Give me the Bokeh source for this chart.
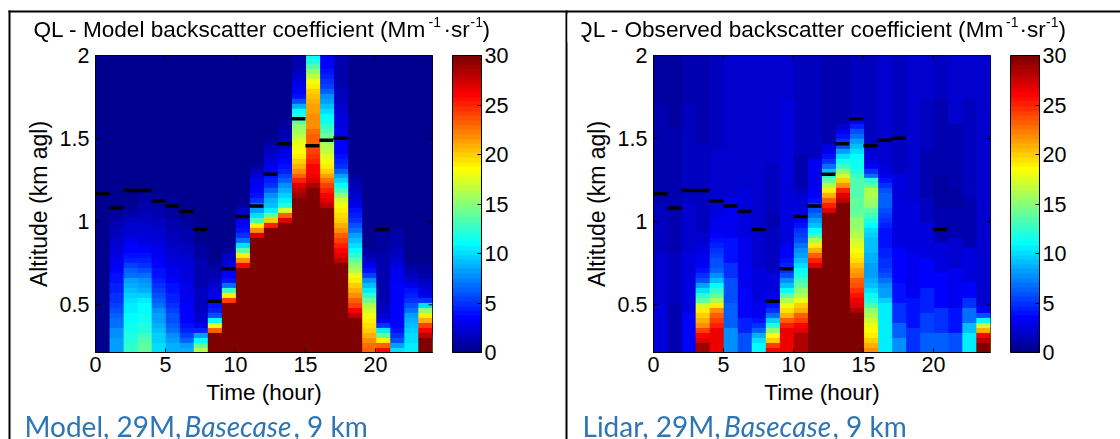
from bokeh.plotting import figure
from bokeh.models import (ColumnDataSource, LinearColorMapper, ColorBar, FixedTicker,
                          Label, Range1d, NumeralTickFormatter)
from bokeh.layouts import row
from bokeh.embed import file_html
from bokeh.resources import INLINE
import numpy as np

# ---------- data ----------
mlh_hours = [0, 1, 2, 3, 4, 5, 6, 7, 8, 9, 10, 11, 12, 13, 14, 15, 16, 17, 20]
mlh_km = [1.168, 1.082, 1.188, 1.188, 1.124, 1.094, 1.062, 0.953, 0.522, 0.717, 1.032,
          1.094, 1.286, 1.469, 1.619, 1.457, 1.49, 1.502, 0.953]
x_ticks = [0, 5, 10, 15, 20]
y_ticks = [0.5, 1, 1.5, 2]
c_ticks = [0, 5, 10, 15, 20, 25, 30]

model_columns = [
    [0.3],
    [8,8,8,7.5,7.5,7,7,6.5,6,5.5,5,5,4.5,4.5,4,4,3.5,3,3,2.5,2.5,2,2,1.5,1.5,1,1,.7,.5,.2],
    [12.5,12.5,12,12,11.5,11.5,11,11,10.5,10.5,10,9.5,9,8.5,8,7,6.5,5.5,4.5,4,3.5,3.5,3,2.5,2,2,1.5,1,.5,.2],
    [14,14,13.5,13,12,12,11.5,11.5,11,11,10.5,9.5,8.5,8,7.5,7,6,5,4.5,4,3.5,3,2.5,2.5,2,2,1.5,1.5,1,1,.7,.5,.3],
    [10,10,9.5,9.5,9,8.5,8,8,7.5,7,6.5,6,5.5,5,4.5,4,4,3.5,3.5,3,3,2.5,2.5,2,2,1.5,1.5,1,1,.7,.7,.5,.3],
    [8.5,8.5,8,7.5,7,6.5,6,6,5.5,5,4.5,4.5,4,4,3.5,3,3,2.5,2.5,2,2,1.5,1.5,1.5,1,1,1,.7,.7,.5,.5,.3],
    [8.5,8,6.5,5.5,4.5,4,3.7,3.5,3.5,3.5,3.2,3.2,3,3,2.8,2.8,2.5,2.5,2.2,2,1.8,1.6,1.4,1.2,1,.8,.6,.3],
    [16,14,11,8,4.5,3,2,2,1.7,1.7,1.5,1.5,1.5,1.3,1.3,1.2,1,1,1,.8,.6,.5,.3],
    [30,30,30,30,23,18,11,6,4.5,4,3.5,3,2.5,2,1.5,1,1,.5,.3],
    [30]*10+[24,19,13,7,4,3.5,3,2.5,2,1.5,.8,.4,.3],
    [30]*17+[26,22,19,14,10,7,5,4,3.5,3,2,1.5,.8,.4,.3],
    [30]*23+[27,22,19,13,10,8,7,5,4,3.5,3,3,2,1.5,.8,.3],
    [30]*25+[25,20,14,10.5,9,8.5,7.5,6.5,5,4.5,4,3.5,3,2.5,2,1.5,1,.5,.3],
    [30]*26+[27,23,17,12,10.5,9.5,8.5,7.5,6.5,5.5,4.5,4,3.5,3,2.5,2,1.5,1.2,1,.7,.5,.3],
    [30]*31+[29,28,27,25,23,22,21,20,19,18.5,18,17.5,16.5,15.5,15,13.5,12,11,8.5,6,4,3.5,3,2.5,2,1.5,1],
    [30]*33+[28.5,27,26.5,26,26,25,24.5,24,23.5,23,23,22.5,22,22,22,21.5,21.5,21,20.5,20,19,18,16.5,15,13.5,12,11],
    [30]*29+[28,27,26,25,24,22.5,21.5,20,19,18,17.5,16.5,16,15,14.5,13.5,12.5,11.5,11,10,9,8,7.5,6.5,5.5,5,4.5,4,3.5,3.5,3],
    [30]*18+[28,27,26,25,24,23,22,21,20,19.5,19,18,17,15,13,11,9.5,8,6.5,5,4.5,4,3.7,3.5,3.2,3,3,2.8,2.6,2.4,2.2,2,1.8,1.6,1.5,1.4,1.3,1.2,1.1,1,1,1],
    [30]*7+[28,26,24,23,22,21,20,19,18,16,15,14,12.5,11,10,9,8,7,6,5,4.5,4,3,2.5,2,1.5,1,1,.5,.3],
    [23,22.5,22,21,20,19.5,19,18,17,16,14.5,12.5,10.5,9,7.5,5.5,4,3,2,1.2,.5,.3],
    [26,23,19,14,10.5,5,3,2,1.8,1.5,1.3,1.2,1.2,1.1,1.1,1.1,1,1,1,1,.9,.9,.8,.8,.8,.3],
    [10,8,6,5,4,3.7,3.7,3.7,3.7,3.5,3.5,3.5,3.5,3.3,3,3,3,2.5,2,1.5,1.5,1.2,1,1,.8,.3],
    [10.5,10.5,10,10,9.5,9,8.5,8,7,6,5,4.5,4,3,2,1.5,1,.5,.3],
    [30,30,30,28,26,24,21,19,15,10,5,3,2.5,2,1.5,1,.7,.5,.3],
    [18,16,13,8,3,1,.5,.3],
]

lidar_columns = [
    [2.5]*10+[2.2]*10+[1.8]*10+[1.2]*20+[.7],
    [1]*10+[1.5]*10+[1.2]*10+[1]*15+[.8],
    [3.5]*8+[2.5]*12+[2]*10+[1.5]*20+[1.2],
    [29,29,27,26,24,22,21,20,19,17,14,12,10,8,6,5,4,3.5,3,3,2.5,2.5,2,2]+[1.8]*6+[1.5]*12+[1.2],
    [26.5]*5+[25,24,23,22,19,16,14,12.5,11,9,7.5,6.5,6,6,5.5,5,4.5,4,3.5,3,3,3]+[2.5]*4+[2]*10+[1.5],
    [7.5]*5+[6.5]*5+[6]*5+[5]*3+[4]*5+[3]*8+[2.2]*10+[2],
    [6]*4+[4.5]*3+[3.7]*6+[3]*10+[2.5]*10+[2],
    [11,11,10,8.5,6.5,5,4,3,3,3]+[2.5]*7+[2],
    [26,24,20,18.5,15,12,9.5,7,5,4,3.5,3]+[2.5]*4+[1.5]*9+[1]*3+[1.5]*10+[2],
    [26.5]*5+[25,23,21,19.5,18,16,14,11,9,7.5,6,5,4.5,4,3.7,3.5,3]+[2.8]*9+[2.5]*20+[2],
    [28.5]*4+[27,26,24,23,21,20,18,16,15,14,13,12,11,10,9,8,7.5,7,6,5.5,5,4,3.5,3,2.5,2.5,2.5,2,1.5,1.2]+[1]*6+[1.5],
    [30]*17+[27,25,23,21,19,16,13,11,9,8,7,6,5,4,3.5]+[3]*7+[1.5],
    [30]*28+[27,25,23,21,19,16,14,12,9,7,5,4,3,2.5]+[1.2],
    [30]*30+[28,27,25,22,20,17,15,13,11.5,10,8,6,5,4,3,2]+[1.2],
    [30]*8+[28.5,27,26.5,25.5,24.5,23.5,23,22,21.5,20.5,19.5,19,18,17.5,17,16,15.5,15,15,14.5,14,14,14,13.5,13.5,13.5,13.5,13,12,11.5,11.5,11,10,9,8,7,6,4.5,3.5,2,1.5],
    [22,21,20,19,18.5,18,17,16,15,13.5,12,11,10,9,8.5,8,8,8,8.5,8.5,9,9,9,9.5,10,11,12,13,14,15,15.5,16,16,14,12.5,7,5,3.5,2.5,2.5,2,2,1.8,1.5],
    [10.5]*10+[9.5,8,8,7.5,7,6,5.5,5,5,4.5,4.5,4,4,4,4,4.5,5,5.5,6,6.5,6.5,6.5,6,5,4,3,2.5,2.5,2.2,2],
    [7.5]*3+[6.5]*3+[5]*4+[4]*4+[3.3]*7+[2.5]*15+[1.8],
    [5]*5+[4]*6+[3]*9+[2.5]*10+[2],
    [6.5]*4+[5.5]*4+[4.5]*5+[3.5]*6+[2.5]*7+[1.5]*5+[1]*10+[1.5]*10+[2],
    [6.5]*4+[5]*5+[3.5]*7+[2.5]*6+[1.2]*7+[.8]*7+[1]*5+[1.3]*10+[1.8],
    [6]*4+[4]*5+[3]*8+[2]*6+[1]*6+[.8]*4+[1]*13+[2],
    [10.5]*4+[9,9,7,7,7,5,5,3.5,3.5,3.5]+[2.5]*7+[1.2]*10+[1.8]*20+[2],
    [30,30,28,26,21,17,11,6,3.5,2.5]+[2],
    [20]*5+[15,10,5,3,2],
]

title_texts = [("QL - Model backscatter coefficient (Mm", 33, 29, 22.6), ("-1", 428, 21.5, 14), ("·sr", 443, 29, 22.6), ("-1", 470, 21.5, 14), (")", 482, 29, 22.6),
               ("QL - Observed backscatter coefficient (Mm", 574.6, 29, 22.6), ("-1", 1005.5, 21.5, 14), ("·sr", 1019, 29, 22.6), ("-1", 1045.5, 21.5, 14), (")", 1058, 29, 22.6)]
caption_texts = [("Model, 29M, ", 24, "normal"), ("Basecase", 184, "italic"), (", 9 km", 293, "normal"),
                 ("Lidar, 29M, ", 582, "normal"), ("Basecase", 723.6, "italic"), (", 9 km", 832, "normal")]

# ---------- helpers ----------
N_LEVELS = 60
ALT0, DALT = 0.21, 0.03

def matrix(cols):
    a = np.zeros((N_LEVELS, len(cols)))
    for j, c in enumerate(cols):
        c = (list(c) + [c[-1]] * N_LEVELS)[:N_LEVELS]
        a[:, j] = c
    return a

def jet(n=64):
    out = []
    for i in range(n):
        v = (i + 1) / n * 4
        r = min(max(min(v - 1.5, 4.5 - v), 0), 1)
        g = min(max(min(v - 0.5, 3.5 - v), 0), 1)
        b = min(max(min(v + 0.5, 2.5 - v), 0), 1)
        out.append("#%02x%02x%02x" % (int(r*255), int(g*255), int(b*255)))
    return out

TICK_FONT = "21.5px"
BLUE = "#2e75b6"
SANS = "Liberation Sans"
FRAME_TOP, FRAME_BOTTOM, FRAME_W = 55, 352, 336.5
XMAX, YMIN, YMAX = 24.08, 0.213, 2.0

def panel(cols, x_start, width, frame_left):
    left_pad = frame_left - x_start
    p = figure(width=width, height=439, output_backend="svg", toolbar_location=None,
               x_range=Range1d(0, XMAX), y_range=Range1d(YMIN, YMAX),
               min_border_left=left_pad, min_border_top=FRAME_TOP, min_border_bottom=439 - FRAME_BOTTOM,
               min_border_right=int(width - left_pad - FRAME_W),
               background_fill_color="#00008f", border_fill_color="white",
               outline_line_color="black", outline_line_width=1)
    p.grid.visible = False
    mapper = LinearColorMapper(palette=jet(), low=0, high=30)
    p.image(image=[matrix(cols)], x=0, y=ALT0, dw=len(cols), dh=N_LEVELS * DALT, color_mapper=mapper)
    src = ColumnDataSource(dict(x0=mlh_hours, x1=[h + 1 for h in mlh_hours], y=mlh_km))
    p.segment(x0="x0", x1="x1", y0="y", y1="y", source=src, line_color="black", line_width=3.5, line_cap="butt")

    for ax, ticks, size in ((p.xaxis[0], x_ticks, "22.5px"), (p.yaxis[0], y_ticks, "23px")):
        ax.ticker = FixedTicker(ticks=ticks)
        ax.major_tick_in, ax.major_tick_out = 4, 0
        ax.minor_tick_line_color = None
        ax.major_label_text_font = SANS
        ax.major_label_text_font_size = TICK_FONT
        ax.major_label_text_color = "black"
        ax.axis_label_text_font = SANS
        ax.axis_label_text_font_size = size
        ax.axis_label_text_font_style = "normal"
        ax.axis_label_text_color = "black"
        ax.axis_line_color = "black"
    p.xaxis[0].axis_label = "Time (hour)"
    p.yaxis[0].axis_label = "Altitude (km agl)"
    p.yaxis[0].formatter = NumeralTickFormatter(format="0.[0]")
    p.xaxis[0].major_label_standoff = 4
    p.yaxis[0].major_label_standoff = 6
    p.xaxis[0].axis_label_standoff = 5
    p.yaxis[0].axis_label_standoff = 5

    # inward ticks on the top and right edges of the box
    p.scatter(x=x_ticks, y=[YMAX] * len(x_ticks), marker="dash", angle=np.pi / 2, size=8, line_color="black", line_width=1)
    p.scatter(x=[XMAX] * len(y_ticks), y=y_ticks, marker="dash", size=8, line_color="black", line_width=1)

    cb = ColorBar(color_mapper=mapper, ticker=FixedTicker(ticks=c_ticks), width=29, height=297,
                  padding=0, margin=0, location=(357, 0), bar_line_color="black", bar_line_width=1,
                  major_tick_in=4, major_tick_out=0, major_tick_line_color="black",
                  minor_tick_line_color=None, label_standoff=3,
                  major_label_text_font=SANS, major_label_text_font_size=TICK_FONT,
                  major_label_text_color="black", background_fill_alpha=0, border_line_color=None)
    p.add_layout(cb)
    return p

p1 = panel(model_columns, 0, 566, 95)
p2 = panel(lidar_columns, 566, 554, 653)

# page-sized layer on top: table rules of the original page, titles and captions
layer = figure(width=1120, height=439, output_backend="svg", toolbar_location=None,
               x_range=Range1d(0, 1120), y_range=Range1d(439, 0), x_axis_type=None, y_axis_type=None,
               min_border=0, background_fill_alpha=0, border_fill_alpha=0, outline_line_color=None,
               styles={"position": "fixed", "left": "0px", "top": "0px", "z-index": "5"})
layer.grid.visible = False
for text, px, py, size in title_texts:
    layer.add_layout(Label(x=px, y=py, text=text, text_font=SANS, text_font_size=f"{size}px", text_color="black",
                           text_baseline="alphabetic", text_align="left"))
for text, px, style in caption_texts:
    layer.add_layout(Label(x=px, y=425, text=text, text_font="Lato", text_font_size="28px", text_font_style=style,
                           text_color=BLUE, text_baseline="alphabetic", text_align="left"))
# white cell edge that cuts the second title, then the rules
layer.quad(left=[567], right=[581], top=[14], bottom=[42], fill_color="white", line_color=None, level="overlay")
layer.segment(x0=[8, 9, 566], x1=[1120, 9, 566], y0=[11, 10, 10], y1=[11, 439, 439], line_color="black", line_width=2)
open("out.html", "w").write(file_html([row(p1, p2), layer], INLINE))
